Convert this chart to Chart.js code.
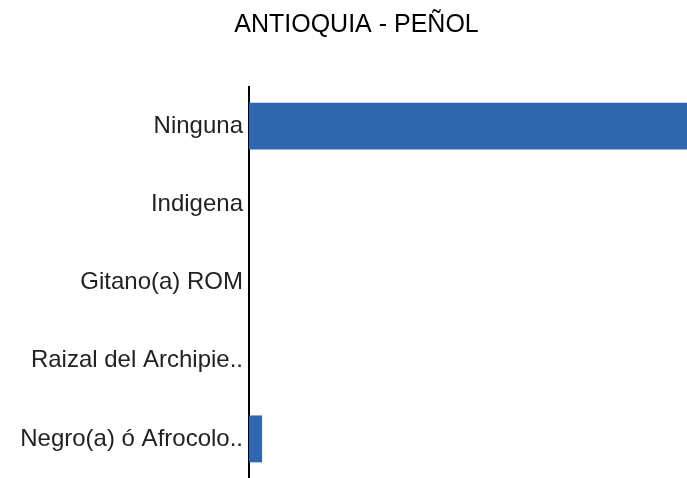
<!DOCTYPE html>
<html>
<head>
<meta charset="utf-8">
<script src="https://cdn.jsdelivr.net/npm/chart.js@4"></script>
<style>
  html, body { margin: 0; padding: 0; background: #fff; }
  #wrap { width: 687px; height: 478px; }
</style>
</head>
<body>
<div id="wrap"><canvas id="barChart" width="687" height="478"></canvas></div>
<script>
const chartTitle = "ANTIOQUIA - PEÑOL";
const categories = ["Ninguna", "Indigena", "Gitano(a) ROM", "Raizal del Archipie..", "Negro(a) ó Afrocolo.."];
const values = [97.1, 0, 0, 0, 2.9];

// the reference title sits a little right of the canvas centre
const shiftTitle = {
  id: "shiftTitle",
  afterLayout(chart) {
    if (chart.titleBlock) chart.titleBlock.left += 26;
  },
};

var ctx = document.getElementById("barChart").getContext("2d");
var myChart = new Chart(ctx, {
  type: "bar",
  data: {
    labels: categories,
    datasets: [
      {
        data: values,
        backgroundColor: "#3167b1",
        borderWidth: 0,
        barPercentage: 0.6,
        categoryPercentage: 1,
      },
    ],
  },
  plugins: [shiftTitle],
  options: {
    indexAxis: "y",
    responsive: false,
    animation: false,
    layout: { padding: 0 },
    plugins: {
      legend: { display: false },
      tooltip: { enabled: false },
      title: {
        display: true,
        text: chartTitle,
        color: "#000",
        font: { family: "Liberation Sans, Arial", size: 25, weight: "normal" },
        padding: { top: 10, bottom: 47 },
      },
    },
    scales: {
      x: {
        display: false,
        min: 0,
        max: Math.max(...values),
      },
      y: {
        grid: { display: false, drawTicks: false },
        border: { display: true, color: "#000", width: 2 },
        ticks: {
          color: "#222",
          padding: 6,
          font: { family: "Liberation Sans, Arial", size: 24 },
        },
        afterFit: function (scale) {
          // keep the axis line where the reference has it, no half-label padding
          scale.width = 249;
          scale.paddingTop = 0;
          scale.paddingBottom = 0;
        },
      },
    },
  },
});
</script>
</body>
</html>
